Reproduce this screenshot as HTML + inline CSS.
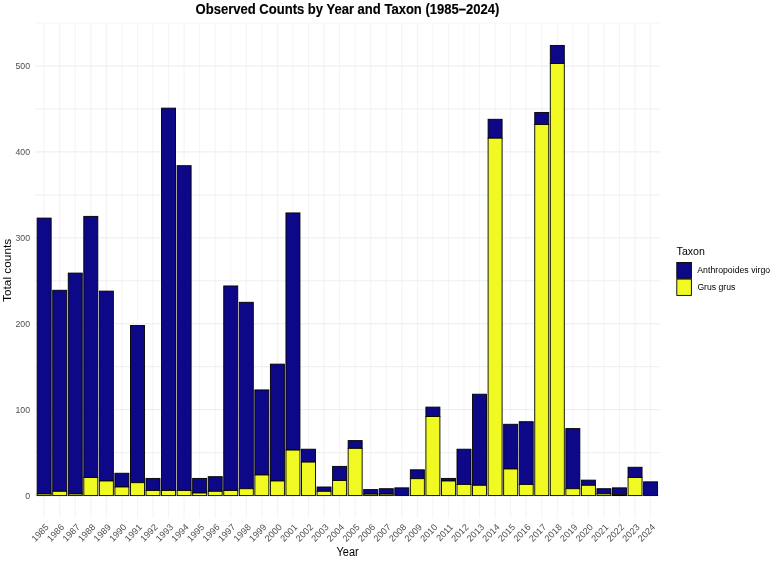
<!DOCTYPE html>
<html><head><meta charset="utf-8"><title>Observed Counts by Year and Taxon</title>
<style>html,body{margin:0;padding:0;background:#fff}svg{display:block}</style></head>
<body>
<svg width="777" height="561" viewBox="0 0 777 561" font-family="Liberation Sans, Arial, sans-serif">
<rect width="777" height="561" fill="#fff"/>
<g stroke="#ebebeb" stroke-width="0.85" fill="none">
<line x1="34.82" x2="659.93" y1="452.63" y2="452.63"/>
<line x1="34.82" x2="659.93" y1="366.72" y2="366.72"/>
<line x1="34.82" x2="659.93" y1="280.81" y2="280.81"/>
<line x1="34.82" x2="659.93" y1="194.90" y2="194.90"/>
<line x1="34.82" x2="659.93" y1="108.98" y2="108.98"/>
<line x1="34.82" x2="659.93" y1="23.07" y2="23.07" stroke-width="0.45"/>
</g>
<g stroke="#ebebeb" stroke-width="0.95" fill="none">
<line x1="34.82" x2="659.93" y1="495.59" y2="495.59"/>
<line x1="34.82" x2="659.93" y1="409.68" y2="409.68"/>
<line x1="34.82" x2="659.93" y1="323.77" y2="323.77"/>
<line x1="34.82" x2="659.93" y1="237.85" y2="237.85"/>
<line x1="34.82" x2="659.93" y1="151.94" y2="151.94"/>
<line x1="34.82" x2="659.93" y1="66.03" y2="66.03"/>
</g>
<g stroke="#ebebeb" stroke-width="0.62" fill="none">
<line x1="44.15" x2="44.15" y1="22.9" y2="518.1"/>
<line x1="59.70" x2="59.70" y1="22.9" y2="518.1"/>
<line x1="75.25" x2="75.25" y1="22.9" y2="518.1"/>
<line x1="90.80" x2="90.80" y1="22.9" y2="518.1"/>
<line x1="106.35" x2="106.35" y1="22.9" y2="518.1"/>
<line x1="121.90" x2="121.90" y1="22.9" y2="518.1"/>
<line x1="137.45" x2="137.45" y1="22.9" y2="518.1"/>
<line x1="153.00" x2="153.00" y1="22.9" y2="518.1"/>
<line x1="168.55" x2="168.55" y1="22.9" y2="518.1"/>
<line x1="184.10" x2="184.10" y1="22.9" y2="518.1"/>
<line x1="199.65" x2="199.65" y1="22.9" y2="518.1"/>
<line x1="215.20" x2="215.20" y1="22.9" y2="518.1"/>
<line x1="230.75" x2="230.75" y1="22.9" y2="518.1"/>
<line x1="246.30" x2="246.30" y1="22.9" y2="518.1"/>
<line x1="261.85" x2="261.85" y1="22.9" y2="518.1"/>
<line x1="277.40" x2="277.40" y1="22.9" y2="518.1"/>
<line x1="292.95" x2="292.95" y1="22.9" y2="518.1"/>
<line x1="308.50" x2="308.50" y1="22.9" y2="518.1"/>
<line x1="324.05" x2="324.05" y1="22.9" y2="518.1"/>
<line x1="339.60" x2="339.60" y1="22.9" y2="518.1"/>
<line x1="355.15" x2="355.15" y1="22.9" y2="518.1"/>
<line x1="370.70" x2="370.70" y1="22.9" y2="518.1"/>
<line x1="386.25" x2="386.25" y1="22.9" y2="518.1"/>
<line x1="401.80" x2="401.80" y1="22.9" y2="518.1"/>
<line x1="417.35" x2="417.35" y1="22.9" y2="518.1"/>
<line x1="432.90" x2="432.90" y1="22.9" y2="518.1"/>
<line x1="448.45" x2="448.45" y1="22.9" y2="518.1"/>
<line x1="464.00" x2="464.00" y1="22.9" y2="518.1"/>
<line x1="479.55" x2="479.55" y1="22.9" y2="518.1"/>
<line x1="495.10" x2="495.10" y1="22.9" y2="518.1"/>
<line x1="510.65" x2="510.65" y1="22.9" y2="518.1"/>
<line x1="526.20" x2="526.20" y1="22.9" y2="518.1"/>
<line x1="541.75" x2="541.75" y1="22.9" y2="518.1"/>
<line x1="557.30" x2="557.30" y1="22.9" y2="518.1"/>
<line x1="572.85" x2="572.85" y1="22.9" y2="518.1"/>
<line x1="588.40" x2="588.40" y1="22.9" y2="518.1"/>
<line x1="603.95" x2="603.95" y1="22.9" y2="518.1"/>
<line x1="619.50" x2="619.50" y1="22.9" y2="518.1"/>
<line x1="635.05" x2="635.05" y1="22.9" y2="518.1"/>
<line x1="650.60" x2="650.60" y1="22.9" y2="518.1"/>
</g>
<g stroke="#000" stroke-width="0.9">
<rect x="37.15" y="218.09" width="14.00" height="275.87" fill="#0d0887"/>
<rect x="37.15" y="493.96" width="14.00" height="1.63" fill="#f0f921"/>
<rect x="52.70" y="290.26" width="14.00" height="201.04" fill="#0d0887"/>
<rect x="52.70" y="491.30" width="14.00" height="4.30" fill="#f0f921"/>
<rect x="68.25" y="273.08" width="14.00" height="220.88" fill="#0d0887"/>
<rect x="68.25" y="493.96" width="14.00" height="1.63" fill="#f0f921"/>
<rect x="83.80" y="216.38" width="14.00" height="261.17" fill="#0d0887"/>
<rect x="83.80" y="477.55" width="14.00" height="18.04" fill="#f0f921"/>
<rect x="99.35" y="291.12" width="14.00" height="189.87" fill="#0d0887"/>
<rect x="99.35" y="480.99" width="14.00" height="14.61" fill="#f0f921"/>
<rect x="114.90" y="473.25" width="14.00" height="13.75" fill="#0d0887"/>
<rect x="114.90" y="487.00" width="14.00" height="8.59" fill="#f0f921"/>
<rect x="130.45" y="325.48" width="14.00" height="157.22" fill="#0d0887"/>
<rect x="130.45" y="482.70" width="14.00" height="12.89" fill="#f0f921"/>
<rect x="146.00" y="478.41" width="14.00" height="12.03" fill="#0d0887"/>
<rect x="146.00" y="490.44" width="14.00" height="5.15" fill="#f0f921"/>
<rect x="161.55" y="108.13" width="14.00" height="382.31" fill="#0d0887"/>
<rect x="161.55" y="490.44" width="14.00" height="5.15" fill="#f0f921"/>
<rect x="177.10" y="165.69" width="14.00" height="324.75" fill="#0d0887"/>
<rect x="177.10" y="490.44" width="14.00" height="5.15" fill="#f0f921"/>
<rect x="192.65" y="478.41" width="14.00" height="14.61" fill="#0d0887"/>
<rect x="192.65" y="493.01" width="14.00" height="2.58" fill="#f0f921"/>
<rect x="208.20" y="476.69" width="14.00" height="14.61" fill="#0d0887"/>
<rect x="208.20" y="491.30" width="14.00" height="4.30" fill="#f0f921"/>
<rect x="223.75" y="285.96" width="14.00" height="204.47" fill="#0d0887"/>
<rect x="223.75" y="490.44" width="14.00" height="5.15" fill="#f0f921"/>
<rect x="239.30" y="302.29" width="14.00" height="186.43" fill="#0d0887"/>
<rect x="239.30" y="488.72" width="14.00" height="6.87" fill="#f0f921"/>
<rect x="254.85" y="389.92" width="14.00" height="85.05" fill="#0d0887"/>
<rect x="254.85" y="474.97" width="14.00" height="20.62" fill="#f0f921"/>
<rect x="270.40" y="364.14" width="14.00" height="116.84" fill="#0d0887"/>
<rect x="270.40" y="480.99" width="14.00" height="14.61" fill="#f0f921"/>
<rect x="285.95" y="212.94" width="14.00" height="237.12" fill="#0d0887"/>
<rect x="285.95" y="450.06" width="14.00" height="45.53" fill="#f0f921"/>
<rect x="301.50" y="449.20" width="14.00" height="12.89" fill="#0d0887"/>
<rect x="301.50" y="462.09" width="14.00" height="33.51" fill="#f0f921"/>
<rect x="317.05" y="487.00" width="14.00" height="4.30" fill="#0d0887"/>
<rect x="317.05" y="491.30" width="14.00" height="4.30" fill="#f0f921"/>
<rect x="332.60" y="466.38" width="14.00" height="14.09" fill="#0d0887"/>
<rect x="332.60" y="480.47" width="14.00" height="15.12" fill="#f0f921"/>
<rect x="348.15" y="440.61" width="14.00" height="7.73" fill="#0d0887"/>
<rect x="348.15" y="448.34" width="14.00" height="47.25" fill="#f0f921"/>
<rect x="363.70" y="489.58" width="14.00" height="4.55" fill="#0d0887"/>
<rect x="363.70" y="494.13" width="14.00" height="1.46" fill="#f0f921"/>
<rect x="379.25" y="488.72" width="14.00" height="5.41" fill="#0d0887"/>
<rect x="379.25" y="494.13" width="14.00" height="1.46" fill="#f0f921"/>
<rect x="394.80" y="487.86" width="14.00" height="7.73" fill="#0d0887"/>
<rect x="410.35" y="469.82" width="14.00" height="8.85" fill="#0d0887"/>
<rect x="410.35" y="478.67" width="14.00" height="16.92" fill="#f0f921"/>
<rect x="425.90" y="407.10" width="14.00" height="9.45" fill="#0d0887"/>
<rect x="425.90" y="416.55" width="14.00" height="79.04" fill="#f0f921"/>
<rect x="441.45" y="478.41" width="14.00" height="2.58" fill="#0d0887"/>
<rect x="441.45" y="480.99" width="14.00" height="14.61" fill="#f0f921"/>
<rect x="457.00" y="449.20" width="14.00" height="35.22" fill="#0d0887"/>
<rect x="457.00" y="484.42" width="14.00" height="11.17" fill="#f0f921"/>
<rect x="472.55" y="394.21" width="14.00" height="91.07" fill="#0d0887"/>
<rect x="472.55" y="485.28" width="14.00" height="10.31" fill="#f0f921"/>
<rect x="488.10" y="119.29" width="14.00" height="18.90" fill="#0d0887"/>
<rect x="488.10" y="138.19" width="14.00" height="357.40" fill="#f0f921"/>
<rect x="503.65" y="424.28" width="14.00" height="44.67" fill="#0d0887"/>
<rect x="503.65" y="468.96" width="14.00" height="26.63" fill="#f0f921"/>
<rect x="519.20" y="421.71" width="14.00" height="62.72" fill="#0d0887"/>
<rect x="519.20" y="484.42" width="14.00" height="11.17" fill="#f0f921"/>
<rect x="534.75" y="112.42" width="14.00" height="12.03" fill="#0d0887"/>
<rect x="534.75" y="124.45" width="14.00" height="371.14" fill="#f0f921"/>
<rect x="550.30" y="45.41" width="14.00" height="18.04" fill="#0d0887"/>
<rect x="550.30" y="63.45" width="14.00" height="432.14" fill="#f0f921"/>
<rect x="565.85" y="428.58" width="14.00" height="60.14" fill="#0d0887"/>
<rect x="565.85" y="488.72" width="14.00" height="6.87" fill="#f0f921"/>
<rect x="581.40" y="480.13" width="14.00" height="5.15" fill="#0d0887"/>
<rect x="581.40" y="485.28" width="14.00" height="10.31" fill="#f0f921"/>
<rect x="596.95" y="488.72" width="14.00" height="5.15" fill="#0d0887"/>
<rect x="596.95" y="493.87" width="14.00" height="1.72" fill="#f0f921"/>
<rect x="612.50" y="487.86" width="14.00" height="6.87" fill="#0d0887"/>
<rect x="612.50" y="494.73" width="14.00" height="0.86" fill="#f0f921"/>
<rect x="628.05" y="467.24" width="14.00" height="10.31" fill="#0d0887"/>
<rect x="628.05" y="477.55" width="14.00" height="18.04" fill="#f0f921"/>
<rect x="643.60" y="481.84" width="14.00" height="13.75" fill="#0d0887"/>
</g>
<g font-size="9.4" fill="#4d4d4d" text-anchor="end">
<text x="30" y="499.04" transform="translate(30 0) scale(0.93 1) translate(-30 0)">0</text>
<text x="30" y="413.13" transform="translate(30 0) scale(0.93 1) translate(-30 0)">100</text>
<text x="30" y="327.22" transform="translate(30 0) scale(0.93 1) translate(-30 0)">200</text>
<text x="30" y="241.30" transform="translate(30 0) scale(0.93 1) translate(-30 0)">300</text>
<text x="30" y="155.39" transform="translate(30 0) scale(0.93 1) translate(-30 0)">400</text>
<text x="30" y="69.48" transform="translate(30 0) scale(0.93 1) translate(-30 0)">500</text>
</g>
<g font-size="9.1" fill="#4d4d4d" text-anchor="end">
<text transform="translate(49.35,527.70) rotate(-45.5)">1985</text>
<text transform="translate(64.90,527.70) rotate(-45.5)">1986</text>
<text transform="translate(80.45,527.70) rotate(-45.5)">1987</text>
<text transform="translate(96.00,527.70) rotate(-45.5)">1988</text>
<text transform="translate(111.55,527.70) rotate(-45.5)">1989</text>
<text transform="translate(127.10,527.70) rotate(-45.5)">1990</text>
<text transform="translate(142.65,527.70) rotate(-45.5)">1991</text>
<text transform="translate(158.20,527.70) rotate(-45.5)">1992</text>
<text transform="translate(173.75,527.70) rotate(-45.5)">1993</text>
<text transform="translate(189.30,527.70) rotate(-45.5)">1994</text>
<text transform="translate(204.85,527.70) rotate(-45.5)">1995</text>
<text transform="translate(220.40,527.70) rotate(-45.5)">1996</text>
<text transform="translate(235.95,527.70) rotate(-45.5)">1997</text>
<text transform="translate(251.50,527.70) rotate(-45.5)">1998</text>
<text transform="translate(267.05,527.70) rotate(-45.5)">1999</text>
<text transform="translate(282.60,527.70) rotate(-45.5)">2000</text>
<text transform="translate(298.15,527.70) rotate(-45.5)">2001</text>
<text transform="translate(313.70,527.70) rotate(-45.5)">2002</text>
<text transform="translate(329.25,527.70) rotate(-45.5)">2003</text>
<text transform="translate(344.80,527.70) rotate(-45.5)">2004</text>
<text transform="translate(360.35,527.70) rotate(-45.5)">2005</text>
<text transform="translate(375.90,527.70) rotate(-45.5)">2006</text>
<text transform="translate(391.45,527.70) rotate(-45.5)">2007</text>
<text transform="translate(407.00,527.70) rotate(-45.5)">2008</text>
<text transform="translate(422.55,527.70) rotate(-45.5)">2009</text>
<text transform="translate(438.10,527.70) rotate(-45.5)">2010</text>
<text transform="translate(453.65,527.70) rotate(-45.5)">2011</text>
<text transform="translate(469.20,527.70) rotate(-45.5)">2012</text>
<text transform="translate(484.75,527.70) rotate(-45.5)">2013</text>
<text transform="translate(500.30,527.70) rotate(-45.5)">2014</text>
<text transform="translate(515.85,527.70) rotate(-45.5)">2015</text>
<text transform="translate(531.40,527.70) rotate(-45.5)">2016</text>
<text transform="translate(546.95,527.70) rotate(-45.5)">2017</text>
<text transform="translate(562.50,527.70) rotate(-45.5)">2018</text>
<text transform="translate(578.05,527.70) rotate(-45.5)">2019</text>
<text transform="translate(593.60,527.70) rotate(-45.5)">2020</text>
<text transform="translate(609.15,527.70) rotate(-45.5)">2021</text>
<text transform="translate(624.70,527.70) rotate(-45.5)">2022</text>
<text transform="translate(640.25,527.70) rotate(-45.5)">2023</text>
<text transform="translate(655.80,527.70) rotate(-45.5)">2024</text>
</g>
<text x="336.5" y="555.7" font-size="12" textLength="22.2" lengthAdjust="spacingAndGlyphs" fill="#000">Year</text>
<text transform="translate(11.2,302) rotate(-90)" font-size="10.9" textLength="63.3" lengthAdjust="spacingAndGlyphs" fill="#000">Total counts</text>
<text x="195.6" y="13.7" font-size="14.1" font-weight="bold" stroke="#000" stroke-width="0.15" textLength="303.8" lengthAdjust="spacingAndGlyphs" fill="#000">Observed Counts by Year and Taxon (1985–2024)</text>
<text x="676.6" y="254.6" font-size="11" textLength="28.3" lengthAdjust="spacingAndGlyphs" fill="#000">Taxon</text>
<rect x="676.8" y="262.5" width="14.6" height="15.8" fill="#0d0887" stroke="#000" stroke-width="0.9"/>
<rect x="676.8" y="279.1" width="14.6" height="16.3" fill="#f0f921" stroke="#000" stroke-width="0.9"/>
<text x="697.3" y="273.3" font-size="8.9" textLength="72.8" lengthAdjust="spacingAndGlyphs" fill="#000">Anthropoides virgo</text>
<text x="697.4" y="290.3" font-size="8.9" textLength="38" lengthAdjust="spacingAndGlyphs" fill="#000">Grus grus</text>
</svg>
</body></html>
